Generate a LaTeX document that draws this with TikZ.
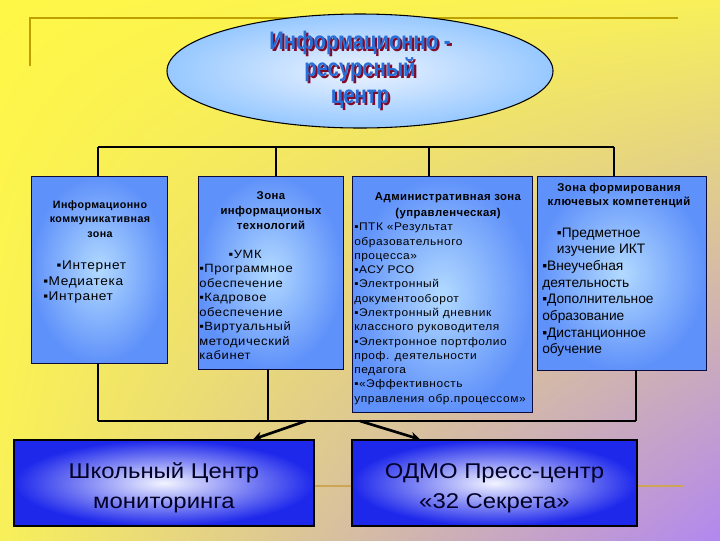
\documentclass[tikz,border=0pt]{standalone}
\usepackage{fontspec}
\setmainfont{Liberation Sans}
\newfontfamily\headfont[FakeStretch=0.8]{Liberation Sans}
\newfontfamily\listfont[FakeStretch=1.08,LetterSpace=5]{Liberation Sans}
\newfontfamily\titlefont[LetterSpace=4]{Liberation Sans}
\newfontfamily\widefont[FakeStretch=1.12]{Liberation Sans}
\usetikzlibrary{shapes.geometric,arrows.meta,shadings}
\definecolor{bgyellow}{RGB}{255,247,70}
\definecolor{bgyellowb}{RGB}{248,240,90}
\definecolor{bgpurple}{RGB}{178,135,240}
\definecolor{zoneout}{RGB}{95,145,250}
\definecolor{zonein}{RGB}{178,218,255}
\definecolor{zoneline}{RGB}{10,10,60}
\definecolor{centout}{RGB}{30,40,235}
\definecolor{centin}{RGB}{242,244,255}
\definecolor{ellout}{RGB}{150,200,255}
\definecolor{ellin}{RGB}{236,243,255}
\definecolor{titleblue}{RGB}{40,110,215}
\definecolor{shadowred}{RGB}{130,10,40}
\definecolor{goldtop}{RGB}{190,160,0}
\definecolor{goldlow}{RGB}{205,165,85}
\newcommand{\shtext}[1]{\makebox[0pt][l]{\kern1.6pt\raisebox{-1.6pt}{\textcolor{shadowred}{#1}}}\textcolor{titleblue}{#1}}
\tikzset{
    zone/.style={rectangle, draw=zoneline, line width=0.6pt, inner color=zonein, outer color=zoneout},
    centre/.style={rectangle, draw=black, line width=1pt, inner color=centin, outer color=centout,
        minimum width=225pt, minimum height=64.5pt, align=center,
        font=\widefont\fontsize{16}{22.5}\selectfont, text=black!85!blue},
    ztitle/.style={anchor=north, inner sep=0pt, align=center},
    zlist/.style={anchor=north west, inner sep=0pt, align=left},
    tree/.style={line width=0.8pt, black},
    push/.style={line width=2pt, -{Stealth[length=7pt,width=7pt]}}
}
\begin{document}
\begin{tikzpicture}[x=0.75pt, y=-0.75pt]
        \useasboundingbox (0,0) rectangle (720,540);
        \shade[upper left=bgyellow, upper right=bgyellowb, lower left=bgyellowb, lower right=bgpurple] (0,0) rectangle (720,540);
        \draw[goldtop, line width=2.2pt] (30,66) -- (30,18) -- (678,18);
        \draw[goldlow, line width=2.2pt] (300,486) -- (683,486);
        \node (ctr) [ellipse, draw=black, line width=0.8pt, inner color=ellin, outer color=ellout,
            minimum width=289.5pt, minimum height=85.5pt, inner sep=0pt, align=center,
            font=\headfont\bfseries\fontsize{19}{20}\selectfont] at (360,71)
            {\shtext{Информационно -}\\\shtext{ресурсный}\\\shtext{центр}};
        \node (z1) [zone, minimum width=102pt, minimum height=140.25pt] at (99,269.5) {};
        \node (z2) [zone, minimum width=108.75pt, minimum height=144.75pt] at (270.5,272.5) {};
        \node (z3) [zone, minimum width=135pt, minimum height=177pt] at (442,294) {};
        \node (z4) [zone, minimum width=126.75pt, minimum height=145.5pt] at (621.5,273) {};
        \node (z1t) [ztitle, font=\titlefont\bfseries\fontsize{8}{10.9}\selectfont] at (100,200)
            {Информационно\\коммуникативная\\зона};
        \node (z1l) [zlist, font=\listfont\fontsize{9.5}{11.6}\selectfont] at (43,261)
            {\hspace*{10pt}▪Интернет\\▪Медиатека\\▪Интранет};
        \node (z2t) [ztitle, font=\titlefont\bfseries\fontsize{8.5}{11.25}\selectfont] at (271,191)
            {Зона\\информационых\\технологий};
        \node (z2l) [zlist, font=\listfont\fontsize{9}{10.9}\selectfont] at (199,249.5)
            {\hspace*{22pt}▪УМК\\▪Программное\\обеспечение\\▪Кадровое\\обеспечение\\▪Виртуальный\\методический\\кабинет};
        \node (z3t) [ztitle, font=\titlefont\bfseries\fontsize{8.5}{12}\selectfont] at (448,192)
            {Административная зона\\(управленческая)};
        \node (z3l) [zlist, font=\listfont\fontsize{8.3}{10.7}\selectfont] at (354,223)
            {▪ПТК «Результат\\образовательного\\процесса»\\▪АСУ РСО\\▪Электронный\\документооборот\\▪Электронный дневник\\классного руководителя\\▪Электронное портфолио\\проф. деятельности\\педагога\\▪«Эффективность\\управления обр.процессом»};
        \node (z4t) [ztitle, font=\titlefont\bfseries\fontsize{8.5}{10}\selectfont] at (619,183.5)
            {Зона формирования\\ключевых компетенций};
        \node (z4l) [zlist, font=\fontsize{10.3}{12.5}\selectfont] at (542,227.5)
            {\hspace*{11pt}▪Предметное\\\hspace*{11pt}изучение ИКТ\\▪Внеучебная\\деятельность\\▪Дополнительное\\образование\\▪Дистанционное\\обучение};
        \node (b5) [centre] at (164,483) {\rule{0pt}{19pt}Школьный Центр\\мониторинга};
        \node (b6) [centre, minimum width=213.75pt] at (494.5,483) {\rule{0pt}{19pt}ОДМО Пресс-центр\\«32 Секрета»};
        \coordinate (h1) at (98,147);
        \coordinate (h2) at (276,147);
        \coordinate (h3) at (429,147);
        \coordinate (h4) at (614,147);
        \coordinate (g1) at (98,421);
        \coordinate (g2) at (268,421);
        \coordinate (g3) at (636,421);
        \coordinate (s1) at (306,421);
        \coordinate (s2) at (360,421);
        \coordinate (e1) at (253,440);
        \coordinate (e2) at (420,440);
        \draw[tree] (h1) -- (h4);
        \draw[tree] (h1) -- (h1 |- z1.north);
        \draw[tree] (h2) -- (h2 |- z2.north);
        \draw[tree] (h3) -- (h3 |- z3.north);
        \draw[tree] (h4) -- (h4 |- z4.north);
        \draw[tree] (g1) -- (g3);
        \draw[tree] (g1 |- z1.south) -- (g1);
        \draw[tree] (g2 |- z2.south) -- (g2);
        \draw[tree] (g3 |- z4.south) -- (g3);
        \draw[push] (s1) -- (e1 |- b5.north);
        \draw[push] (s2) -- (e2 |- b6.north);
\end{tikzpicture}
\end{document}
